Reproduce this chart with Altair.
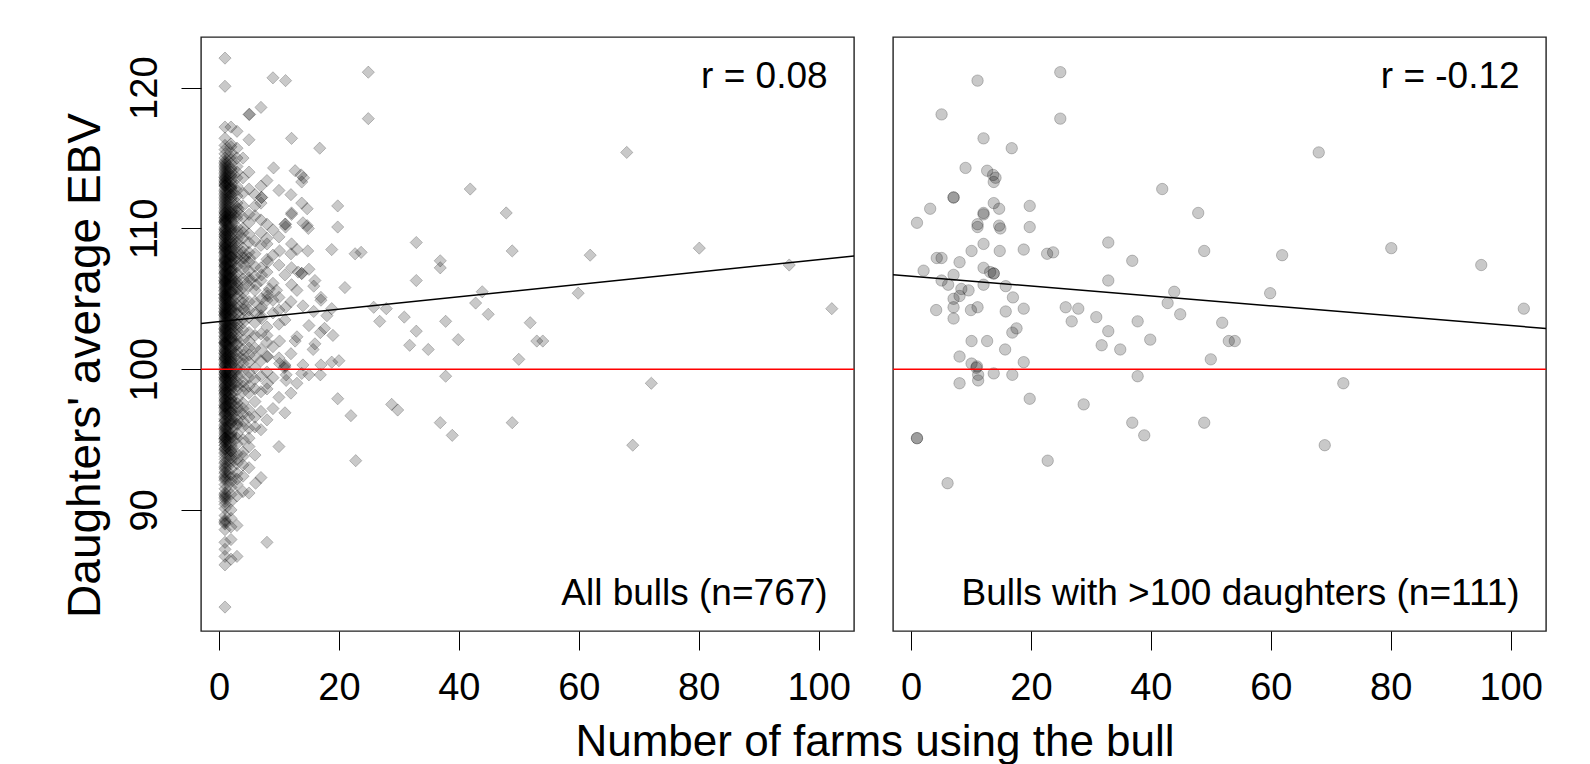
import altair as alt
import pandas as pd

FONT = "Liberation Sans"

# ---- Bulls with >100 daughters (right panel; also part of left panel) ----
big_x = [11.1, 24.9, 24.9, 5.1, 12.1, 16.8, 9.1, 12.7, 13.7, 13.8, 41.9, 7.1, 7.1, 3.2, 47.9, 1.0,
         13.8, 14.7, 12.1, 12.1, 19.8, 19.8, 11.1, 11.1, 14.7, 14.9, 12.1, 10.1, 14.8, 18.8, 22.7,
         23.7, 32.9, 36.9, 48.9, 61.9, 4.3, 5.1, 8.1, 2.1, 12.1, 13.8, 13.8, 7.1, 32.9, 43.9, 59.9,
         42.8, 44.9, 51.9, 7.1, 7.1, 7.1, 4.2, 11.1, 15.8, 18.8, 25.8, 27.9, 26.8, 30.9, 32.9, 37.8,
         17.6, 16.9, 10.1, 12.7, 39.9, 53.0, 5.1, 6.2, 8.4, 9.6, 12.1, 15.8, 8.1, 15.7, 31.8, 34.9,
         54.0, 50.0, 8.1, 10.1, 10.9, 11.2, 11.2, 8.1, 13.8, 16.9, 18.8, 37.8, 19.8, 28.8, 36.9, 38.9,
         48.9, 1.0, 1.0, 6.1, 22.8, 68.0, 80.1, 95.1, 102.2, 72.1, 69.0, 11.0, 13.2, 14.1, 10.0, 17.0]
big_y = [120.5, 121.1, 117.8, 118.1, 116.4, 115.7, 114.3, 114.1, 113.8, 113.3, 112.8, 112.2, 112.2,
         111.4, 111.1, 110.4, 111.8, 111.4, 111.1, 111.0, 111.6, 110.1, 110.3, 110.1, 110.2, 110.0,
         108.9, 108.4, 108.4, 108.5, 108.2, 108.3, 109.0, 107.7, 108.4, 108.1, 107.9, 107.9, 107.6,
         107.0, 107.2, 106.8, 106.8, 106.7, 106.3, 105.5, 105.4, 104.7, 103.9, 103.3, 105.0, 104.4,
         103.6, 104.2, 104.4, 104.1, 104.3, 104.4, 104.3, 103.4, 103.7, 102.7, 103.4, 102.9, 102.6,
         102.0, 102.0, 102.1, 102.0, 106.3, 106.0, 105.7, 105.6, 106.0, 105.9, 105.2, 101.4, 101.7,
         101.4, 102.0, 100.7, 100.9, 100.4, 100.1, 99.6, 99.2, 99.0, 99.7, 99.6, 100.5, 99.5, 97.9,
         97.5, 96.2, 95.3, 96.2, 95.1, 95.1, 91.9, 93.5, 115.4, 108.6, 107.4, 104.3, 99.0, 94.6,
         100.2, 106.9, 113.6, 104.2, 105.1]

# ---- Remaining bulls (left panel only), daughters' EBV by number of farms ----
farms_1 = ("122.1 120.1 117.2 116.4 115.9 115.3 115.0 114.7 114.6 114.3 114.2 114.0 113.9 113.7 113.6 "
           "113.5 113.3 113.1 113.0 112.8 112.5 112.3 112.2 111.9 111.8 111.5 111.4 111.2 111.0 110.9 "
           "110.7 110.5 110.4 110.3 110.1 110.0 109.9 109.7 109.5 109.4 109.2 109.0 108.9 108.8 108.6 "
           "108.5 108.3 108.1 108.0 107.9 107.8 107.6 107.5 107.3 107.2 107.1 107.0 106.8 106.7 106.6 "
           "106.4 106.3 106.2 106.0 105.9 105.8 105.7 105.5 105.4 105.3 105.1 105.0 104.9 104.8 104.6 "
           "104.5 104.4 104.2 104.1 104.0 103.9 103.7 103.6 103.5 103.3 103.2 103.1 102.9 102.8 102.7 "
           "102.5 102.4 102.2 102.1 102.0 101.8 101.7 101.6 101.4 101.3 101.1 101.0 100.9 100.7 100.6 "
           "100.4 100.3 100.2 100.0 99.9 99.8 99.6 99.5 99.3 99.2 99.0 98.9 98.7 98.6 98.4 98.2 98.1 "
           "97.9 97.7 97.6 97.4 97.2 97.0 96.9 96.7 96.5 96.3 96.1 95.9 95.7 95.5 95.4 95.2 95.0 94.8 "
           "94.6 94.4 94.1 94.0 93.8 93.6 93.3 93.1 92.9 92.6 92.4 92.3 92.1 91.8 91.5 91.2 91.0 90.8 "
           "90.6 90.4 90.1 89.6 89.3 89.1 89.0 88.6 87.7 87.2 86.7 86.1 83.1 "
           "113.8 112.0 110.6 109.1 107.7 106.5 105.2 103.8 102.6 101.2 99.7 98.3 96.8 95.6 94.3 92.7 "
           "113.4 111.1 108.7 106.1 104.3 101.9 99.4 97.3 94.9 93.0 91.1 89.2 "
           "114.8 113.2 112.7 111.6 110.8 109.8 109.3 108.2 107.4 106.9 106.1 105.6 105.0 104.7 104.0 "
           "103.4 102.6 101.9 101.1 100.5 99.8 99.1 98.5 97.8 97.1 96.4 95.8 95.1 "
           "115.6 114.4 113.1 112.6 111.3 110.6 109.6 108.7 108.4 107.7 106.9 106.5 105.6 105.3 104.5 "
           "103.9 103.0 102.3 101.5 100.8 100.1 99.4 98.8 98.0 97.5 "
           "114.5 114.1 113.6 113.0 112.4 111.7 111.1 110.5 109.9 109.4 108.9 108.3 107.8 107.3 106.8 "
           "106.3 105.8 105.3 104.8 104.3 103.8 103.3 102.8 102.3 101.8 101.3 100.8 100.3 99.8 99.3 "
           "98.8 98.3 97.8 97.3 96.8 96.3 95.8 95.3 94.8 94.3 113.3 112.1 110.8 109.6 108.6 107.4 "
           "106.2 105.1 104.1 102.9 101.9 100.7 99.6 98.5 97.4 96.0 94.6 93.4 92.2 90.9")
farms_2 = ("117.2 116.0 115.8 115.1 114.6 114.2 113.8 113.5 113.2 112.9 112.6 112.1 111.7 111.5 111.1 "
           "110.8 110.6 110.2 109.9 109.6 109.3 109.1 108.7 108.5 108.2 107.9 107.7 107.4 107.1 106.9 "
           "106.6 106.4 106.1 105.9 105.6 105.3 105.1 104.9 104.6 104.3 104.1 103.8 103.6 103.4 103.1 "
           "102.9 102.6 102.3 102.1 101.9 101.6 101.3 101.1 100.8 100.6 100.3 100.1 99.8 99.5 99.3 99.0 "
           "98.7 98.5 98.2 97.9 97.6 97.3 97.0 96.7 96.4 96.1 95.8 95.5 95.1 94.8 94.5 94.1 93.7 93.3 "
           "92.9 92.5 92.0 91.6 91.1 90.6 90.0 89.4 88.8 87.9 86.5 112.4 110.4 108.0 106.2 104.4 102.5 "
           "100.5 98.9 96.9 94.2 113.0 111.3 109.4 107.5 105.5 103.3 101.5 99.7 97.8 95.3 "
           "115.4 114.0 112.8 111.9 110.9 110.0 108.9 108.0 107.2 106.3 105.5 104.7 103.9 103.0 102.2 "
           "101.4 100.5 99.6 98.8 97.9 97.0 96.2 95.4 94.6 93.5 92.3 "
           "114.9 113.7 112.4 111.2 110.1 109.0 108.1 107.0 106.0 104.8 103.5 102.0 100.9 99.4 97.6 "
           "114.3 113.4 112.2 111.0 109.8 108.6 107.6 106.5 105.4 104.2 103.2 102.2 101.2 100.2 99.2 "
           "98.2 97.2 96.2 95.2 94.2 112.9 110.7 108.4 106.7 104.5 102.8 100.7 98.6 96.5 93.9")
farms_3 = ("116.9 115.7 115.0 114.4 113.6 113.0 112.3 111.8 111.2 110.7 110.1 109.5 109.0 108.4 107.9 "
           "107.3 106.8 106.2 105.7 105.1 104.6 104.0 103.5 102.9 102.4 101.8 101.3 100.7 100.2 99.6 "
           "99.1 98.5 97.9 97.3 96.7 96.1 95.4 94.7 94.0 93.3 92.6 91.8 91.0 88.9 86.7 112.7 111.5 "
           "109.8 108.7 107.6 106.5 105.4 104.3 103.2 102.1 101.0 99.9 98.8 97.6 96.4 95.1 93.6 110.9 "
           "108.1 105.9 103.9 101.7 99.4 97.1 114.0 109.2 106.0 102.7 100.0 96.0 92.2")
farms_4 = ("115.0 112.5 111.6 110.8 110.0 109.3 108.6 107.9 107.1 106.4 105.8 105.0 104.3 103.6 102.8 "
           "102.1 101.4 100.7 99.9 99.1 98.4 97.6 96.8 95.9 95.0 94.1 93.2 92.4 91.3 113.6 109.7 107.5 "
           "105.4 103.3 101.0 98.8 96.3 93.8 108.3 104.7 100.4 97.2")
farms_5 = ("118.1 116.3 114.0 111.0 109.6 108.3 107.0 105.9 104.8 103.7 102.6 101.5 100.5 99.4 98.3 "
           "97.1 95.8 94.5 93.0 110.4 106.5 102.0 99.8 96.6 112.8 109.0 107.6 104.2 101.0 98.8 95.1 91.2")
farms_6 = ("112.4 110.9 109.1 107.3 105.6 104.0 102.4 100.9 99.3 97.7 95.9 93.9 108.2 103.3 100.1 "
           "111.6 106.6 104.8 101.5 98.6 96.6")
farms_7 = "118.6 113.0 110.6 108.8 106.3 104.3 102.5 100.6 98.4 95.7 92.3 109.7 101.4 111.8 107.2 103.8 99.5 97.0"
farms_8 = "113.4 110.3 108.9 106.9 104.9 103.0 100.9 98.6 96.4 87.7 107.8 101.9 109.3 105.4 102.4 99.8"
farms_9 = "120.7 109.9 108.1 106.1 104.0 101.6 99.4 97.2 104.9"
farms_10 = "112.7 109.4 107.4 105.1 103.2 100.8 98.0 94.5"
other_x = [11, 11, 11, 11, 11, 12, 12, 12, 12, 12, 13, 13, 13, 13, 14, 14, 14, 15, 15, 15,
           16, 16, 17, 17, 18, 19, 20, 21, 22, 29.8, 36.9]
other_y = [110.3, 106.7, 103.5, 100.3, 96.9, 112.4, 108.2, 104.8, 101.1, 98.3, 108.5, 105.6,
           102.3, 99.0, 110.4, 104.5, 100.3, 107.1, 103.1, 99.6, 106.3, 101.8, 104.9, 100.3,
           103.8, 102.4, 100.6, 105.8, 96.7, 97.1, 107.2]

# fitted regression lines (end points across each panel) and labels
line_x = [-3.0, 105.9]
line_all_y = [103.25, 108.05]
line_big_y = [106.71, 102.89]
ref_level = [100]
r_labels = ["r = 0.08", "r = -0.12"]
n_labels = ["All bulls (n=767)", "Bulls with >100 daughters (n=111)"]

# ---- build tables ----
small_x, small_y = [], []
for farms, s in [(1, farms_1), (2, farms_2), (3, farms_3), (4, farms_4), (5, farms_5),
                 (6, farms_6), (7, farms_7), (8, farms_8), (9, farms_9), (10, farms_10)]:
    vals = [float(v) for v in s.split()]
    small_x += [farms] * len(vals)
    small_y += vals
small_x += other_x
small_y += other_y

all_df = pd.DataFrame({"farms": small_x + big_x, "ebv": small_y + big_y})
big_df = pd.DataFrame({"farms": big_x, "ebv": big_y})

XS = alt.Scale(domain=[-3.0, 105.9], nice=False, zero=False)
YS = alt.Scale(domain=[81.4, 123.6], nice=False, zero=False)


def make_panel(df, shape, size, line_y, r_text, n_text, first):
    if first:
        yaxis = alt.Axis(values=[90, 100, 110, 120], tickSize=20, tickColor="black", tickWidth=1,
                         labelAngle=270, labelAlign="center", labelBaseline="alphabetic",
                         labelPadding=25, labelFontSize=38, labelFont=FONT, labelColor="black",
                         domain=False, grid=False, title="Daughters' average EBV", titleFont=FONT,
                         titleFontSize=46, titleFontWeight="normal", titleColor="black",
                         titleAngle=270, titleAlign="center", titleBaseline="alphabetic",
                         titleX=-102, titleY=328)
        xaxis = alt.Axis(values=[0, 20, 40, 60, 80, 100], tickSize=19, tickColor="black", tickWidth=1,
                         labelBaseline="alphabetic", labelPadding=49, labelFontSize=38, labelFont=FONT,
                         labelColor="black", labelFlush=False, labelOverlap=False,
                         domain=False, grid=False, title="Number of farms using the bull",
                         titleFont=FONT, titleFontSize=44, titleFontWeight="normal", titleColor="black",
                         titleAlign="center", titleBaseline="alphabetic", titleX=673.5, titleY=124)
    else:
        yaxis = None
        xaxis = alt.Axis(values=[0, 20, 40, 60, 80, 100], tickSize=19, tickColor="black", tickWidth=1,
                         labelBaseline="alphabetic", labelPadding=49, labelFontSize=38, labelFont=FONT,
                         labelColor="black", labelFlush=False, labelOverlap=False,
                         domain=False, grid=False, title=None)

    pts = alt.Chart(df).mark_point(shape=shape, filled=True, fill="black", fillOpacity=0.21,
                                   stroke="black", strokeOpacity=0.22, strokeWidth=1, size=size,
                                   clip=True).encode(
        x=alt.X("farms:Q", scale=XS, axis=xaxis),
        y=alt.Y("ebv:Q", scale=YS, axis=yaxis),
    )
    ref = alt.Chart(pd.DataFrame({"ebv": ref_level})).mark_rule(color="red", strokeWidth=1.5).encode(
        y=alt.Y("ebv:Q", scale=YS)
    )
    fit = alt.Chart(pd.DataFrame({"farms": line_x, "ebv": line_y})).mark_line(
        color="black", strokeWidth=1.5, clip=True).encode(
        x=alt.X("farms:Q", scale=XS), y=alt.Y("ebv:Q", scale=YS)
    )
    txt = alt.Chart(pd.DataFrame({"farms": [101.5, 101.5], "ebv": [119.98, 83.25],
                                  "label": [r_text, n_text]})).mark_text(
        align="right", baseline="alphabetic", fontSize=37, font=FONT, color="black").encode(
        x=alt.X("farms:Q", scale=XS), y=alt.Y("ebv:Q", scale=YS), text="label:N"
    )
    return alt.layer(pts, ref, fit, txt).properties(width=653, height=594)


left = make_panel(all_df, "diamond", 150, line_all_y, r_labels[0], n_labels[0], True)
right = make_panel(big_df, "circle", 130, line_big_y, r_labels[1], n_labels[1], False)

chart = alt.hconcat(left, right, spacing=39, bounds="flush").properties(
    padding={"left": 53, "top": 28, "right": 5, "bottom": 5},
    background="white",
).configure_view(stroke="#222222", strokeWidth=1.4)

chart.save("out.html", embed_options={"renderer": "svg", "actions": False})
